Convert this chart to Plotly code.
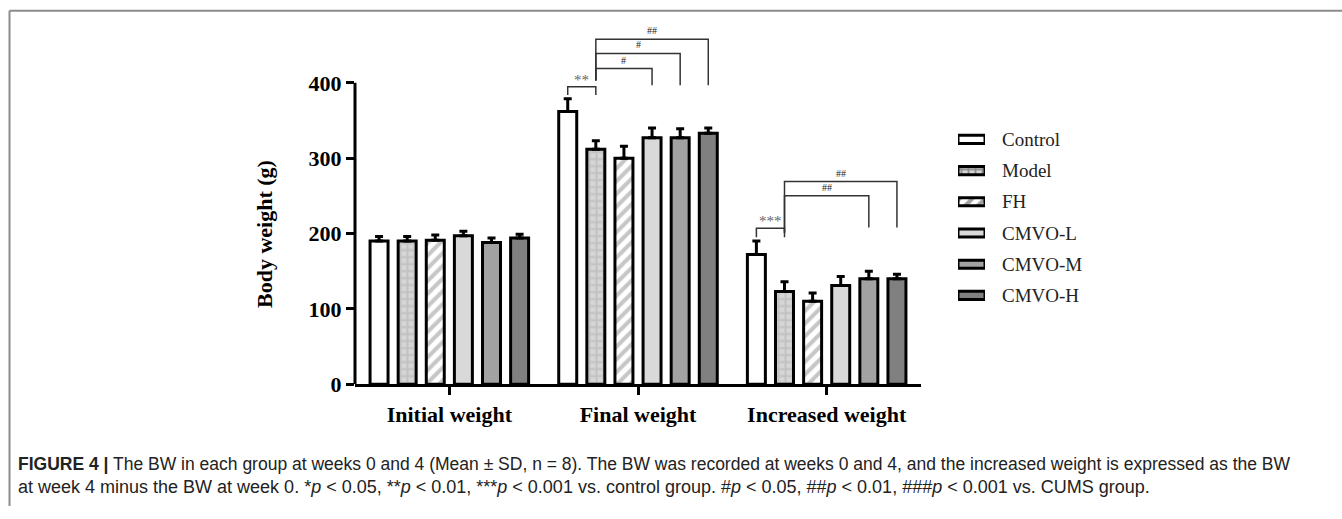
import plotly.graph_objects as go

# ---------------- data ----------------
groups = ["Initial weight", "Final weight", "Increased weight"]
series = ["Control", "Model", "FH", "CMVO-L", "CMVO-M", "CMVO-H"]
means = {
    "Control": [190, 362, 172],
    "Model":   [190, 312, 123],
    "FH":      [191, 300, 110],
    "CMVO-L":  [197, 327, 131],
    "CMVO-M":  [188, 327, 140],
    "CMVO-H":  [194, 333, 140],
}
sds = {
    "Control": [6, 17, 18],
    "Model":   [6, 11, 13],
    "FH":      [7, 16, 11],
    "CMVO-L":  [6, 13, 12],
    "CMVO-M":  [6, 12, 10],
    "CMVO-H":  [5, 7, 6],
}
y_ticks = [0, 100, 200, 300, 400]

# significance brackets: group index, from-series, to-series, top, left-leg bottom, right-leg bottom, label
brk_group = [1, 1, 1, 1, 2, 2, 2]
brk_from = [0, 1, 1, 1, 0, 1, 1]
brk_to = [1, 3, 4, 5, 1, 4, 5]
brk_top = [395, 419, 439, 458, 207, 250, 269]
brk_lbot = [384, 403, 403, 403, 195, 201, 201]
brk_rbot = [384, 397, 397, 397, 195, 208, 208]
brk_label = ["**", "#", "#", "##", "***", "##", "##"]

caption1 = ("<b>FIGURE 4 |</b> The BW in each group at weeks 0 and 4 (Mean ± SD, n = 8). "
            "The BW was recorded at weeks 0 and 4, and the increased weight is expressed as the BW")
caption2 = ("at week 4 minus the BW at week 0. *<i>p</i> < 0.05, **<i>p</i> < 0.01, ***<i>p</i> < 0.001 "
            "vs. control group. #<i>p</i> < 0.05, ##<i>p</i> < 0.01, ###<i>p</i> < 0.001 vs. CUMS group.")

# ---------------- styles ----------------
fills = {
    "Control": dict(color="white", pattern=dict(shape="")),
    "Model": dict(color="#d6d6d6", pattern=dict(shape="+", fgcolor="#ababab", bgcolor="#d6d6d6", size=7, solidity=0.45)),
    "FH": dict(color="white", pattern=dict(shape="/", fgcolor="#8e8e8e", bgcolor="white", size=9, solidity=0.45)),
    "CMVO-L": dict(color="#d9d9d9", pattern=dict(shape="")),
    "CMVO-M": dict(color="#a2a2a2", pattern=dict(shape="")),
    "CMVO-H": dict(color="#808080", pattern=dict(shape="")),
}

W, H = 1342, 519
SERIF = "Liberation Serif"
BARGAP = 0.106

# pixel layout of plot area
px_left, px_right = 355, 921
px_zero = 394
px_per_unit = 0.7725
y_max = 480
px_top = px_zero - y_max * px_per_unit

fig = go.Figure()

for s in series:
    f = fills[s]
    fig.add_trace(go.Bar(
        name=s, x=groups, y=means[s],
        marker=dict(color=f["color"], pattern=f["pattern"], line=dict(color="black", width=3)),
        error_y=dict(type="data", array=sds[s], arrayminus=[0] * len(groups), symmetric=False,
                     color="black", thickness=3, width=4),
        showlegend=False, xaxis="x", yaxis="y",
    ))

# legend drawn as a small bar chart on its own axes
fig.add_trace(go.Bar(
    y=series, x=[1] * len(series), orientation="h", width=0.26,
    marker=dict(
        color=[fills[s]["color"] for s in series],
        pattern=dict(
            shape=[fills[s]["pattern"].get("shape", "") for s in series],
            fgcolor=[fills[s]["pattern"].get("fgcolor", "#000") for s in series],
            bgcolor=[fills[s]["pattern"].get("bgcolor", fills[s]["color"]) for s in series],
            size=[fills[s]["pattern"].get("size", 8) for s in series],
            solidity=[fills[s]["pattern"].get("solidity", 0.3) for s in series],
        ),
        line=dict(color="black", width=3),
    ),
    showlegend=False, xaxis="x2", yaxis="y2", hoverinfo="skip",
))

slot = (1 - BARGAP) / len(series)


def bar_x(g, i):
    return g + (i - (len(series) - 1) / 2) * slot


shapes = []
annotations = []
for g, a, b, top, lb, rb, lab in zip(brk_group, brk_from, brk_to, brk_top, brk_lbot, brk_rbot, brk_label):
    xa, xb = bar_x(g, a), bar_x(g, b)
    shapes.append(dict(type="path", xref="x", yref="y",
                       path=f"M {xa},{lb} L {xa},{top} L {xb},{top} L {xb},{rb}",
                       line=dict(color="#333333", width=1.5)))
    is_star = "*" in lab
    annotations.append(dict(x=(xa + xb) / 2, y=top, xref="x", yref="y", text=lab, showarrow=False,
                            yanchor="bottom", yshift=(-3 if is_star else 1),
                            font=dict(family=SERIF, size=(15 if is_star else 10),
                                      color=("#666666" if is_star else "#222222"))))

# y axis line only up to 400
shapes.append(dict(type="line", xref="paper", yref="y", x0=px_left / W, x1=px_left / W,
                   y0=0, y1=max(y_ticks), line=dict(color="black", width=3)))
# frame lines
shapes.append(dict(type="line", xref="paper", yref="paper", x0=9.5 / W, x1=1, y0=1 - 11 / H, y1=1 - 11 / H,
                   line=dict(color="#8c8c8c", width=2)))
shapes.append(dict(type="line", xref="paper", yref="paper", x0=9.5 / W, x1=9.5 / W, y0=0, y1=1 - 11 / H,
                   line=dict(color="#8c8c8c", width=2)))

annotations.append(dict(x=265 / W, y=1 - 240 / H, xref="paper", yref="paper", text="<b>Body weight (g)</b>",
                        textangle=-90, xanchor="center", yanchor="middle", showarrow=False,
                        font=dict(family=SERIF, size=22, color="black")))
annotations.append(dict(x=16 / W, y=1 - 476 / H, xref="paper", yref="paper", text=caption1, xanchor="left",
                        yanchor="middle", showarrow=False,
                        font=dict(family="Liberation Sans", size=17.5, color="#222222")))
annotations.append(dict(x=16 / W, y=1 - 500 / H, xref="paper", yref="paper", text=caption2, xanchor="left",
                        yanchor="middle", showarrow=False,
                        font=dict(family="Liberation Sans", size=18, color="#222222")))

fig.update_layout(
    width=W, height=H, margin=dict(l=0, r=0, t=0, b=0),
    paper_bgcolor="white", plot_bgcolor="white",
    barmode="group", bargap=BARGAP, bargroupgap=0.36,
    xaxis=dict(domain=[px_left / W, px_right / W], range=[-0.5, 2.5], type="category",
               showline=True, linecolor="black", linewidth=3, ticks="outside", ticklen=8, tickwidth=3,
               tickcolor="black", showgrid=False, zeroline=False,
               tickfont=dict(family=SERIF, size=22, color="black"),
               tickvals=groups, ticktext=[f"<b>{g}</b>" for g in groups], anchor="y"),
    yaxis=dict(domain=[1 - px_zero / H, 1 - px_top / H], range=[0, y_max], tickvals=y_ticks,
               ticktext=[f"<b>{v}</b>" for v in y_ticks],
               showline=False, ticks="outside", ticklen=8, tickwidth=3, tickcolor="black",
               showgrid=False, zeroline=False, tickfont=dict(family=SERIF, size=22, color="black"),
               anchor="x"),
    xaxis2=dict(domain=[958 / W, 985 / W], range=[0, 1], visible=False, anchor="y2"),
    yaxis2=dict(domain=[1 - 319 / H, 1 - 127 / H], type="category", categoryarray=series,
                categoryorder="array", autorange="reversed", side="right", anchor="x2",
                showgrid=False, zeroline=False, showline=False, ticks="", ticklabelstandoff=16,
                tickfont=dict(family=SERIF, size=19, color="#222222")),
    shapes=shapes, annotations=annotations,
)

fig.write_html("out.html")
